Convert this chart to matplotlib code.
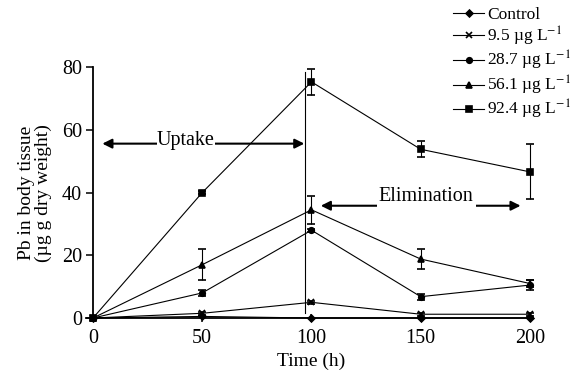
import matplotlib
matplotlib.use('Agg')
import matplotlib.pyplot as plt

plt.rcParams['font.family'] = ['Liberation Serif', 'DejaVu Serif']
plt.rcParams['mathtext.fontset'] = 'stix'

# data
time_h = [0, 50, 100, 150, 200]
labels = ['Control', r'9.5 µg L$^{-1}$', r'28.7 µg L$^{-1}$',
          r'56.1 µg L$^{-1}$', r'92.4 µg L$^{-1}$']
control = [0, 0.5, 0, 0, 0]
c_9_5 = [0, 1.5, 5, 1.2, 1.2]
c_28_7 = [0, 8, 28, 6.8, 10.5]
c_56_1 = [0, 17, 34.5, 18.8, 11]
c_92_4 = [0, 40, 75.3, 53.8, 46.6]
err_control = [0, 0, 0, 0, 0]
err_9_5 = [0, 0.5, 0.5, 0.5, 0.5]
err_28_7 = [0, 1, 0.5, 1, 1.5]
err_56_1 = [0, 5, 4.5, 3.1, 1]
err_92_4 = [0, 0.5, 4.2, 2.5, 8.8]

series = [control, c_9_5, c_28_7, c_56_1, c_92_4]
errors = [err_control, err_9_5, err_28_7, err_56_1, err_92_4]
markers = ['D', 'x', 'o', '^', 's']
msizes = [3.5, 5, 4, 5, 4.5]

fig = plt.figure(figsize=(5.76, 3.75), dpi=100)
ax = fig.add_axes([0.1615, 0.152, 0.7585, 0.669])

handles = []
for vals, err, m, ms, lab in zip(series, errors, markers, msizes, labels):
    ax.errorbar(time_h, vals, yerr=err, color='black', lw=0.8,
                marker=m, ms=ms, mew=1.2, capsize=3, elinewidth=0.8,
                clip_on=False, zorder=3)
    h, = ax.plot([], [], color='black', lw=0.8, marker=m, ms=ms, mew=1.2)
    handles.append(h)

# phase divider
ax.plot([97, 97], [1.7, 78.5], color='black', lw=0.8)

# uptake / elimination arrows
ax.annotate('', xy=(3, 55.6), xytext=(98, 55.6),
            arrowprops=dict(arrowstyle='<|-|>', color='black', lw=1.5,
                            mutation_scale=14))
ax.text(42.5, 56.5, 'Uptake', ha='center', va='center', fontsize=14.5,
        bbox=dict(facecolor='white', edgecolor='none', pad=0.3))
ax.annotate('', xy=(103, 35.8), xytext=(197, 35.8),
            arrowprops=dict(arrowstyle='<|-|>', color='black', lw=1.5,
                            mutation_scale=14))
ax.text(152.5, 38.8, 'Elimination', ha='center', va='center', fontsize=14.5,
        bbox=dict(facecolor='white', edgecolor='none', pad=1.5))

ax.set_xlim(0, 200)
ax.set_ylim(0, 80)
ax.set_xticks([0, 50, 100, 150, 200])
ax.set_yticks([0, 20, 40, 60, 80])
ax.spines['top'].set_visible(False)
ax.spines['right'].set_visible(False)
ax.spines['left'].set_linewidth(1.3)
ax.spines['bottom'].set_linewidth(1.3)
ax.spines['bottom'].set_bounds(-3, 200)
ax.tick_params(axis='x', direction='inout', length=6, width=1.1, labelsize=14.5, pad=5)
ax.tick_params(axis='y', direction='out', length=5, width=1.1, labelsize=14.5, pad=3)

ax.set_xlabel('Time (h)', fontsize=14, labelpad=3)
ax.set_ylabel('Pb in body tissue\n(µg g dry weight)', fontsize=14,
              multialignment='center', labelpad=7, linespacing=1.0)

fig.legend(handles, labels, loc='upper left', bbox_to_anchor=(0.775, 1.0),
           frameon=False, fontsize=12.5, handlelength=1.75, handletextpad=0.2,
           labelspacing=0.08, borderaxespad=0)

fig.savefig('out.png', dpi=100)
